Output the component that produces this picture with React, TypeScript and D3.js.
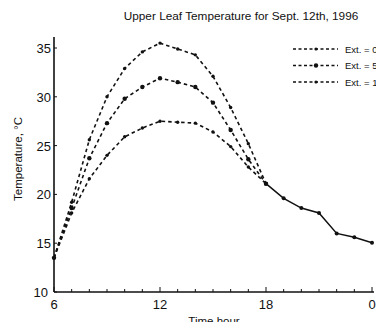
import React from "react";
import * as d3 from "d3";

const dayHours = [6, 7, 8, 9, 10, 11, 12, 13, 14, 15, 16, 17, 18];
const seriesExt0 = [13.5, 19.2, 25.6, 30.0, 32.9, 34.6, 35.5, 34.9, 34.3, 32.1, 28.9, 25.2, 21.1];
const seriesExt5 = [13.5, 18.6, 23.7, 27.3, 29.8, 31.0, 31.9, 31.5, 31.0, 29.4, 26.6, 23.6, 21.1];
const seriesExt1 = [13.5, 18.1, 21.6, 24.0, 25.9, 26.8, 27.5, 27.4, 27.3, 26.4, 24.9, 22.8, 21.1];
const nightHours = [18, 19, 20, 21, 22, 23, 24];
const nightValues = [21.1, 19.6, 18.6, 18.1, 16.0, 15.6, 15.05];
const legendLabels = ["Ext. = 0 %", "Ext. = 50 %", "Ext. = 100 %"];
const yTicks = [10, 15, 20, 25, 30, 35];
const xMajor = [6, 12, 18, 24];
const xMajorLabels = ["6", "12", "18", "0"];

export default function App() {
  const W = 376, H = 322;
  const x = d3.scaleLinear().domain([6, 24]).range([54, 372]);
  const y = d3.scaleLinear().domain([10, 35]).range([292, 48]);
  const line = d3.line<[number, number]>().x(d => x(d[0])).y(d => y(d[1]));
  const daySeries = [seriesExt0, seriesExt5, seriesExt1];
  const minor = d3.range(6, 25, 1);
  const font = "'Liberation Sans', Arial, sans-serif";
  return (
    <svg width={W} height={H} style={{ position: "absolute", left: 0, top: 0, background: "#fff" }}
      fontFamily={font}>
      <rect width={W} height={H} fill="#fff" />
      <text x={241} y={20} fontSize={11.8} textAnchor="middle" fill="#111">
        Upper Leaf Temperature for Sept. 12th, 1996
      </text>
      {/* axes */}
      <line x1={x(6)} x2={x(6)} y1={37} y2={y(10)} stroke="#111" strokeWidth={1.6} />
      <line x1={x(6)} x2={x(24) + 2} y1={y(10)} y2={y(10)} stroke="#111" strokeWidth={1.4} />
      {yTicks.map(t => (
        <g key={t}>
          <line x1={x(6)} x2={x(6) + 3} y1={y(t)} y2={y(t)} stroke="#111" strokeWidth={1} />
          <text x={t === 10 ? 48 : 51} y={y(t) + 5} fontSize={13} textAnchor="end" fill="#111">{t}</text>
        </g>
      ))}
      {minor.map(h => (
        <line key={h} x1={x(h)} x2={x(h)} y1={y(10)} y2={y(10) - (h % 6 === 0 ? 5 : 3)} stroke="#111" strokeWidth={1} />
      ))}
      {xMajor.map((h, i) => (
        <text key={h} x={x(h)} y={309} fontSize={13} textAnchor="middle" fill="#111">{xMajorLabels[i]}</text>
      ))}
      <text x={214} y={325} fontSize={11.5} textAnchor="middle" fill="#111">Time hour</text>
      <text transform={`translate(22,159) rotate(-90)`} fontSize={11.5} textAnchor="middle" fill="#111">
        Temperature, °C
      </text>
      {/* day series */}
      {daySeries.map((s, i) => (
        <g key={i}>
          <path d={line(dayHours.map((h, j) => [h, s[j]]) as [number, number][]) || ""} fill="none"
            stroke="#111" strokeWidth={1.6} strokeDasharray="3.5,3" />
          {dayHours.map((h, j) => (
            <circle key={j} cx={x(h)} cy={y(s[j])} r={i === 1 ? 2.2 : 1.7} fill="#111" />
          ))}
        </g>
      ))}
      {/* night series */}
      <path d={line(nightHours.map((h, j) => [h, nightValues[j]]) as [number, number][]) || ""} fill="none"
        stroke="#111" strokeWidth={1.5} />
      {nightHours.map((h, j) => (
        <circle key={j} cx={x(h)} cy={y(nightValues[j])} r={2} fill="#111" />
      ))}
      {/* legend */}
      {legendLabels.map((l, i) => {
        const ly = 49 + i * 16.5;
        return (
          <g key={i}>
            <line x1={293} x2={338} y1={ly} y2={ly} stroke="#111" strokeWidth={1.3} strokeDasharray="3,2.5" />
            <circle cx={316} cy={ly} r={i === 1 ? 2.2 : 1.6} fill="#111" />
            <text x={345} y={ly + 3.5} fontSize={9.5} fill="#111">{l}</text>
          </g>
        );
      })}
    </svg>
  );
}
